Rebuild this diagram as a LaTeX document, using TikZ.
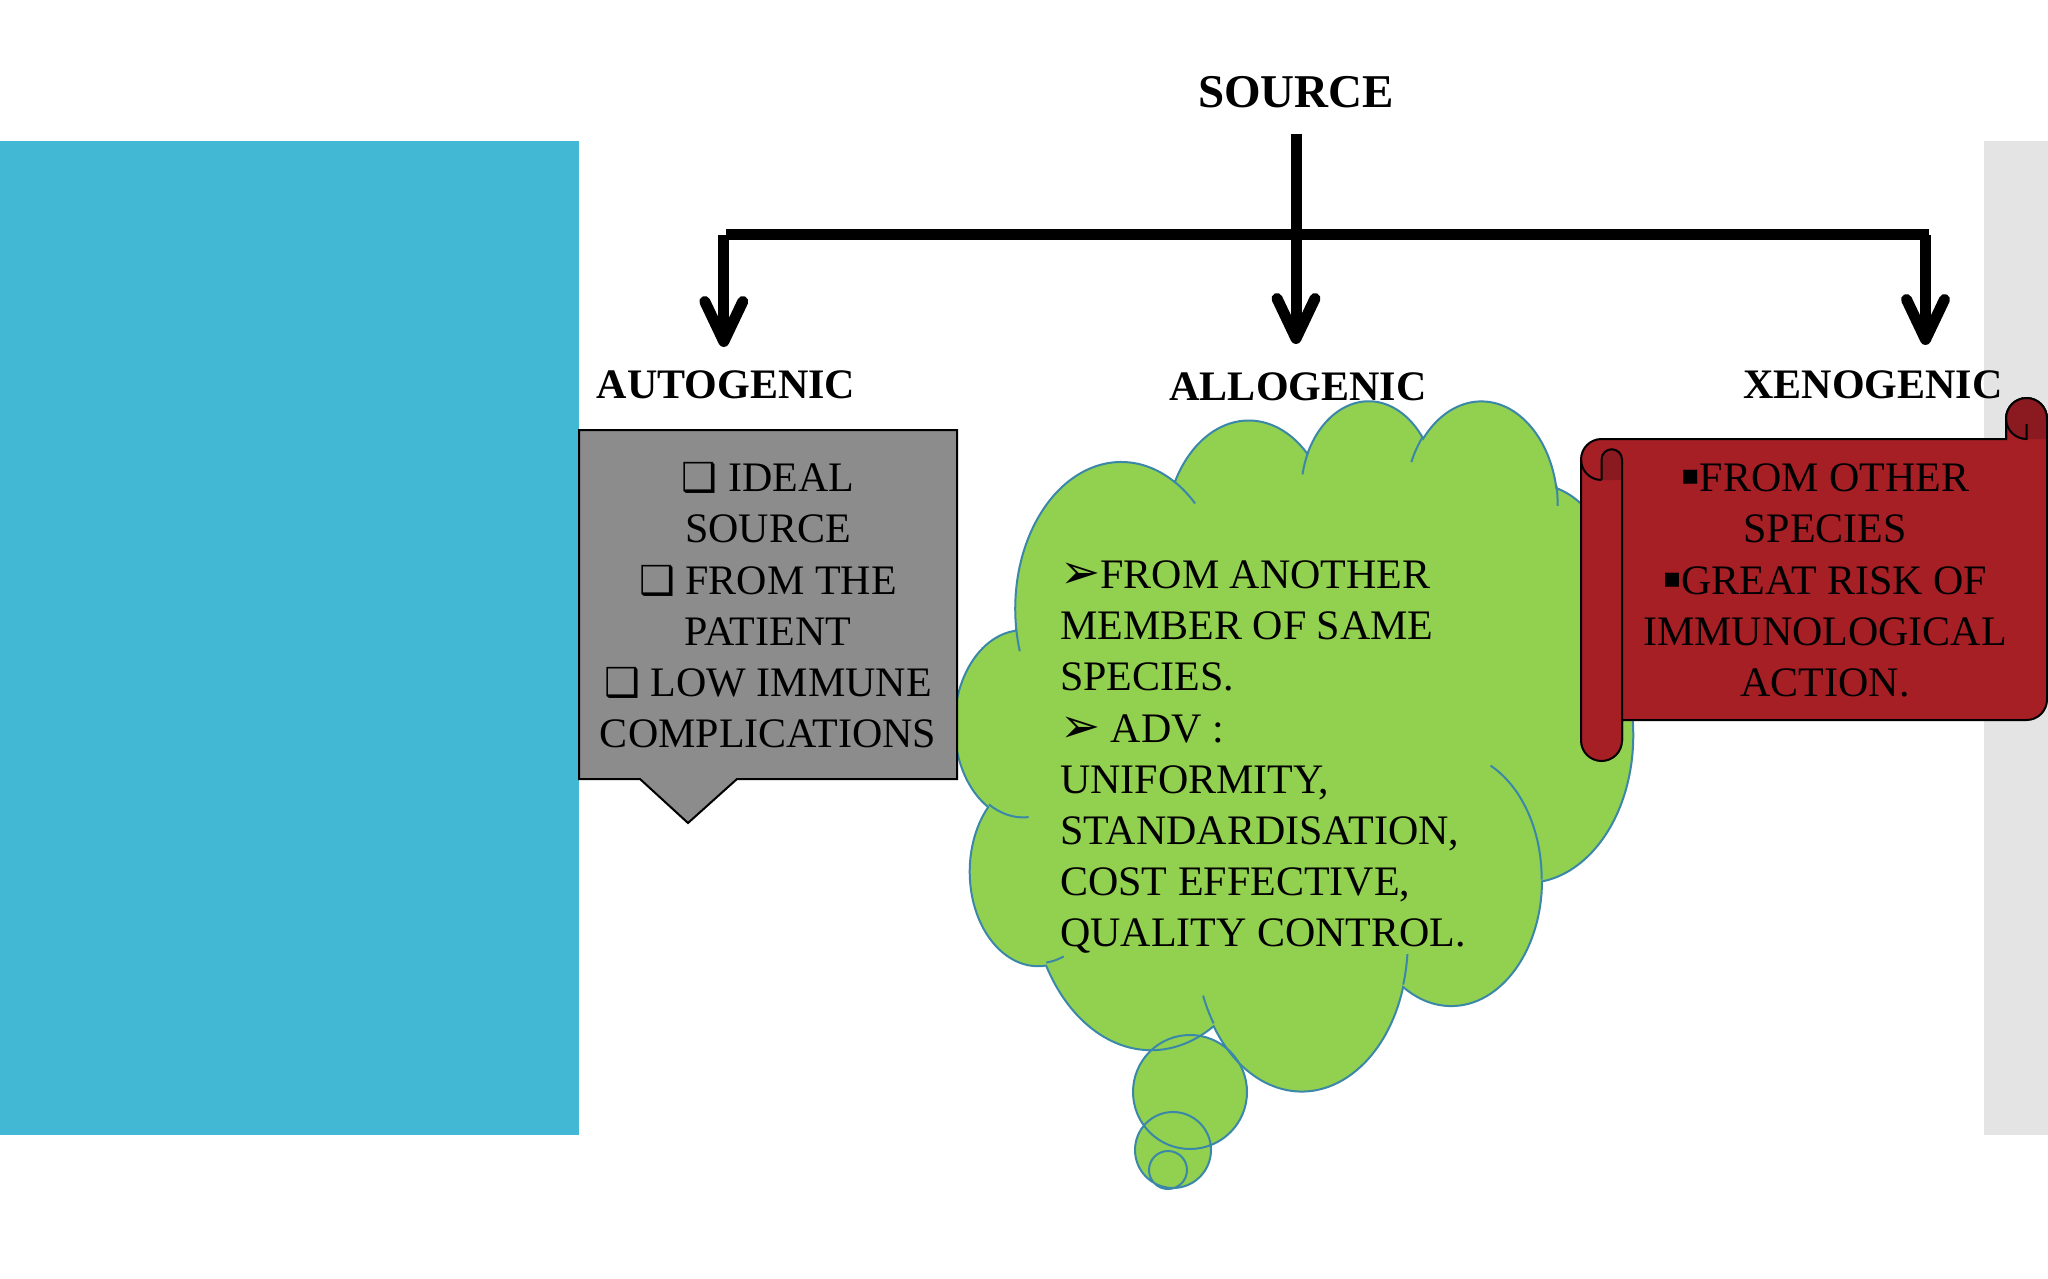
\documentclass[tikz,border=0pt]{standalone}
\usepackage{fontspec}
\setmainfont{Liberation Serif}
\newfontfamily\dejavu{DejaVu Sans}
\usetikzlibrary{arrows.meta}
\definecolor{skyblue}{RGB}{66,184,212}
\definecolor{stripgray}{RGB}{228,228,228}
\definecolor{boxgray}{RGB}{140,140,140}
\definecolor{cloudgreen}{RGB}{146,208,80}
\definecolor{cloudline}{RGB}{58,135,168}
\definecolor{scrollred}{RGB}{166,31,37}
\definecolor{scrolldark}{RGB}{138,26,32}
% OOXML arcTo -> TikZ parametric angles
\newcommand\ooprep[5]{%
  \pgfmathsetmacro\ooa{atan2((#2)*sin(#4),(#3)*cos(#4))}%
  \pgfmathsetmacro\oob{atan2((#2)*sin((#4)+(#5)),(#3)*cos((#4)+(#5)))}%
  \pgfmathsetmacro\oob{ifthenelse(\oob<\ooa,\oob+360,\oob)}%
  \expandafter\xdef\csname oos#1\endcsname{\ooa}%
  \expandafter\xdef\csname ooe#1\endcsname{\oob}%
}
\newcommand\cloudpath{(390,1437)
  arc[x radius=675.3, y radius=919.0, start angle=\oosA, end angle=\ooeA]
  arc[x radius=533.3, y radius=726.7, start angle=\oosB, end angle=\ooeB]
  arc[x radius=436.5, y radius=594.5, start angle=\oosC, end angle=\ooeC]
  arc[x radius=485.7, y radius=659.5, start angle=\oosD, end angle=\ooeD]
  arc[x radius=533.3, y radius=727.3, start angle=\oosE, end angle=\ooeE]
  arc[x radius=677.5, y radius=922.0, start angle=\oosF, end angle=\ooeF]
  arc[x radius=578.5, y radius=786.7, start angle=\oosG, end angle=\ooeG]
  arc[x radius=675.2, y radius=921.5, start angle=\oosH, end angle=\ooeH]
  arc[x radius=772.0, y radius=1054.3, start angle=\oosI, end angle=\ooeI]
  arc[x radius=436.0, y radius=591.8, start angle=\oosJ, end angle=\ooeJ]
  arc[x radius=434.5, y radius=594.5, start angle=\oosK, end angle=\ooeK] -- cycle}
\newcommand\cloudinner{%
  (469.3,2617.7) arc[x radius=434.5, y radius=594.5, start angle=\oosa, end angle=\ooea]
  (692.8,3489.9) arc[x radius=436.0, y radius=591.8, start angle=\oosb, end angle=\ooeb]
  (1647.8,3909.0) arc[x radius=675.2, y radius=921.5, start angle=\oosc, end angle=\ooec]
  (2882.7,3475.1) arc[x radius=675.2, y radius=921.5, start angle=\oosd, end angle=\ooed]
  (3412.9,2295.4) arc[x radius=578.5, y radius=786.7, start angle=\oose, end angle=\ooee]
  (4179.8,1535.4) arc[x radius=533.3, y radius=727.3, start angle=\oosf, end angle=\ooef]
  (3832.4,542.6) arc[x radius=485.7, y radius=659.5, start angle=\oosg, end angle=\ooeg]
  (2907.8,395.2) arc[x radius=485.7, y radius=659.5, start angle=\oosh, end angle=\ooeh]
  (2214.1,472.0) arc[x radius=436.5, y radius=594.5, start angle=\oosi, end angle=\ooei]
  (1400.0,519.2) arc[x radius=675.3, y radius=919.0, start angle=\oosj, end angle=\ooej]
  (412.7,1578.9) arc[x radius=675.3, y radius=919.0, start angle=\oosk, end angle=\ooek]}
\newcommand\sq{{\dejavu\bfseries\fontsize{40}{51.2}\selectfont ❑}}
\newcommand\arr{{\dejavu\bfseries\fontsize{48}{51.2}\selectfont ➢}}
\newcommand\blt{\raisebox{7pt}{\dejavu\fontsize{28}{51.2}\selectfont ▪}}
\begin{document}
\begin{tikzpicture}[x=1pt,y=-1pt,
  lbl/.style={font=\fontsize{42}{50}\selectfont\bfseries, inner sep=0pt, anchor=base},
  body/.style={font=\fontsize{42}{51.2}\selectfont, inner sep=0pt, anchor=base},
  bar/.style={line width=11pt},
  conn/.style={line width=11pt, -{Straight Barb[length=40pt,width=38pt,round]}},
  cloudstroke/.style={draw=cloudline, line width=2pt},
  scrollline/.style={draw=black, line width=2pt}]
\ooprep{A}{675.3}{919.0}{-190.4875}{123.7805}
\ooprep{B}{533.3}{726.7}{-144.1024}{89.9452}
\ooprep{C}{436.5}{594.5}{-145.8079}{99.7230}
\ooprep{D}{485.7}{659.5}{-130.9861}{117.2417}
\ooprep{E}{533.3}{727.3}{-78.7089}{109.0269}
\ooprep{F}{677.5}{922.0}{-46.2673}{130.2690}
\ooprep{G}{578.5}{786.7}{0.6250}{114.0333}
\ooprep{H}{675.2}{921.5}{22.4516}{115.1726}
\ooprep{I}{772.0}{1054.3}{66.2426}{75.7110}
\ooprep{J}{436.0}{591.8}{-274.9421}{146.7356}
\ooprep{K}{434.5}{594.5}{-246.8285}{152.5189}
\ooprep{a}{434.5}{594.5}{86.7420}{26.4295}
\ooprep{b}{436.0}{591.8}{73.6105}{11.4475}
\ooprep{c}{675.2}{921.5}{137.6242}{14.0811}
\ooprep{d}{675.2}{921.5}{6.4533}{15.9984}
\ooprep{e}{578.5}{786.7}{-70.2924}{70.9174}
\ooprep{f}{533.3}{727.3}{30.3180}{27.7515}
\ooprep{g}{485.7}{659.5}{-13.7443}{14.8576}
\ooprep{h}{485.7}{659.5}{-149.1815}{18.1959}
\ooprep{i}{436.5}{594.5}{-163.4943}{17.6895}
\ooprep{j}{675.3}{919.0}{-66.7070}{12.3194}
\ooprep{k}{675.3}{919.0}{157.6544}{11.8582}
\useasboundingbox (0,0) rectangle (2048,1279);
\fill[white] (0,0) rectangle (2048,1279);
% side panels
\fill[skyblue] (0,141) rectangle (579,1135);
\fill[stripgray] (1984,141) rectangle (2048,1135);
% cloud fill
\begin{scope}[shift={(955,399)}, x=0.156944pt, y=-0.159722pt]
  \fill[cloudgreen] \cloudpath;
\end{scope}
\fill[cloudgreen] (1190,1092) circle[radius=57] (1173,1150) circle[radius=38] (1168,1170) circle[radius=19];
\begin{scope}[shift={(955,399)}, x=0.156944pt, y=-0.159722pt]
  \path[cloudstroke] \cloudpath;
  \path[cloudstroke] \cloudinner;
\end{scope}
\path[cloudstroke] (1190,1092) circle[radius=57] (1173,1150) circle[radius=38] (1168,1170) circle[radius=19];
% grey callout box
\draw[line width=2pt, fill=boxgray] (579,430) -- (957,430) -- (957,779) -- (737,779) -- (688,823) -- (640,779) -- (579,779) -- cycle;
% scroll
\draw[scrollline, fill=scrollred] (1581,459.5) arc[start angle=180, end angle=270, radius=20.5]
  -- (2006,439) -- (2006,418.5) arc[start angle=180, end angle=360, radius=20.5]
  -- (2047,699.5) arc[start angle=0, end angle=90, radius=20.5]
  -- (1622,720) -- (1622,740.5) arc[start angle=0, end angle=180, radius=20.5] -- cycle;
\fill[scrolldark] (1601.5,480) -- (1601.5,459.5) arc[start angle=180, end angle=360, radius=10.25] -- (1622,480) -- cycle;
\fill[scrolldark] (2006,418.5) arc[start angle=180, end angle=360, radius=20.5] -- (2047,439) -- (2026.5,439)
  arc[start angle=90, end angle=180, radius=20.5] -- cycle;
\draw[scrollline] (1601.5,480) -- (1601.5,459.5) arc[start angle=180, end angle=360, radius=10.25] -- (1622,740.5);
\draw[scrollline] (1581,459.5) arc[start angle=180, end angle=90, radius=20.5];
\draw[scrollline] (2006,439) -- (2006,418.5) arc[start angle=180, end angle=360, radius=20.5] -- (2047,439);
\draw[scrollline] (2006,418.5) arc[start angle=180, end angle=90, radius=20.5] -- (2026.5,424);
% texts
\node[lbl, font=\fontsize{47}{50}\selectfont\bfseries] (source) at (1296,108) {SOURCE};
\node[lbl] (auto) at (726,398) {AUTOGENIC};
\node[lbl] (allo) at (1298,400) {ALLOGENIC};
\node[lbl] (xeno) at (1873,398) {XENOGENIC};
\node[body] (autotext) at (768,491.7) {\begin{tabular}[t]{@{}c@{}}\sq\ IDEAL\\ SOURCE\\ \sq\ FROM THE\\ PATIENT\\ \sq\ LOW IMMUNE\\ COMPLICATIONS\end{tabular}};
\node[body, anchor=base west] (allotext) at (1060,588.5) {\begin{tabular}[t]{@{}l@{}}\arr FROM ANOTHER\\ MEMBER OF SAME\\ SPECIES.\\ \arr\ ADV :\\ UNIFORMITY,\\ STANDARDISATION,\\ COST EFFECTIVE,\\ QUALITY CONTROL.\end{tabular}};
\node[body] (xenotext) at (1825,491.7) {\begin{tabular}[t]{@{}c@{}}\blt FROM OTHER\\ SPECIES\\ \blt GREAT RISK OF\\ IMMUNOLOGICAL\\ ACTION.\end{tabular}};
% connectors
\coordinate (srcfoot) at (1296,134);
\coordinate (barW) at (726,234.5);
\coordinate (barE) at (1929,234.5);
\coordinate (autoroot) at (723.8,235);
\coordinate (xenoroot) at (1925.5,235);
\coordinate (autotip) at (723.8,347);
\coordinate (allotip) at (1296,344);
\coordinate (xenotip) at (1925.5,345);
\draw[bar] (barW) -- (barE);
\draw[conn] (srcfoot) -- (allotip);
\draw[conn] (autoroot) -- (autotip);
\draw[conn] (xenoroot) -- (xenotip);
\end{tikzpicture}
\end{document}
